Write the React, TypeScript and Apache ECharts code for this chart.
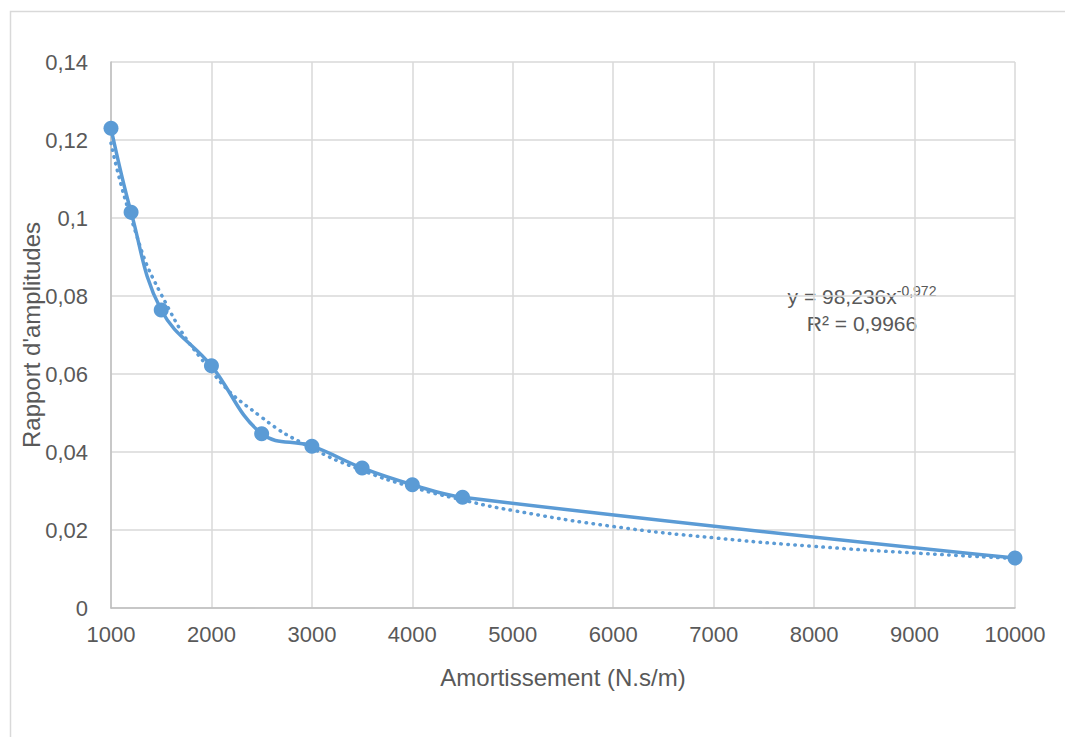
import React, { useEffect, useRef } from "react";
import * as echarts from "echarts";

const xValues = [1000, 1200, 1500, 2000, 2500, 3000, 3500, 4000, 4500, 10000];
const yValues = [0.123, 0.1015, 0.0764, 0.0621, 0.0447, 0.0415, 0.0359, 0.0316, 0.0284, 0.0128];

const trendX = [1000, 1200, 1500, 2000, 2500, 3000, 3500, 4000, 4500, 5000, 6000, 7000, 8000, 9000, 10000];
const trendY = [0.1192, 0.0999, 0.0804, 0.0607, 0.0489, 0.041, 0.0353, 0.031, 0.0277, 0.025, 0.0209, 0.018, 0.0158, 0.0141, 0.0127];

const xAxisTitle = "Amortissement (N.s/m)";
const yAxisTitle = "Rapport d'amplitudes";
const equationText = "y = 98,236x";
const exponentText = "-0,972";
const r2Text = "R² = 0,9966";

const FONT = "Liberation Sans";
const BLUE = "#5B9BD5";
const TEXT = "#595959";

export default function App() {
  const ref = useRef<HTMLDivElement>(null);
  useEffect(() => {
    if (!ref.current) return;
    const chart = echarts.init(ref.current, null, { renderer: "svg" });
    chart.setOption({
      animation: false,
      backgroundColor: "#ffffff",
      textStyle: { fontFamily: FONT },
      grid: { left: 111, right: 50, top: 62, bottom: 129, containLabel: false },
      xAxis: {
        type: "value",
        min: 1000,
        max: 10000,
        interval: 1000,
        name: xAxisTitle,
        nameLocation: "middle",
        nameGap: 57,
        nameMoveOverlap: false,
        nameTextStyle: { fontSize: 24, color: TEXT, fontFamily: FONT },
        axisLine: { show: true, lineStyle: { color: "#bfbfbf", width: 1.5 } },
        axisTick: { show: false },
        axisLabel: {
          fontSize: 22,
          color: TEXT,
          margin: 15,
          fontFamily: FONT,
          formatter: (v: number) => String(v),
        },
        splitLine: { show: true, lineStyle: { color: "#d9d9d9", width: 1.5 } },
      },
      yAxis: {
        type: "value",
        min: 0,
        max: 0.14,
        interval: 0.02,
        name: yAxisTitle,
        nameLocation: "middle",
        nameGap: 68,
        nameMoveOverlap: false,
        nameTextStyle: { fontSize: 24, color: TEXT, fontFamily: FONT },
        axisLine: { show: true, lineStyle: { color: "#bfbfbf", width: 1.5 } },
        axisTick: { show: false },
        axisLabel: {
          fontSize: 22,
          color: TEXT,
          margin: 23,
          fontFamily: FONT,
          formatter: (v: number) => String(+v.toFixed(2)).replace(".", ","),
        },
        splitLine: { show: true, lineStyle: { color: "#d9d9d9", width: 1.5 } },
      },
      graphic: [
        {
          type: "rect",
          shape: { x: 10.5, y: 11.5, width: 1200, height: 900 },
          style: { fill: "none", stroke: "#d9d9d9", lineWidth: 1.5 },
          silent: true,
          z: -1,
        },
        {
          type: "text",
          x: 862,
          y: 296,
          style: {
            text: `{a|${equationText}}{b|${exponentText}}`,
            align: "center",
            verticalAlign: "middle",
            rich: {
              a: { fontSize: 21, fill: TEXT, fontFamily: FONT },
              b: { fontSize: 14, fill: TEXT, fontFamily: FONT, padding: [0, 0, 11, 0] },
            },
          },
        },
        {
          type: "text",
          x: 862,
          y: 323,
          style: {
            text: r2Text,
            align: "center",
            verticalAlign: "middle",
            fontSize: 21,
            fill: TEXT,
            fontFamily: FONT,
          },
        },
      ],
      series: [
        {
          type: "line",
          data: trendX.map((x, i) => [x, trendY[i]]),
          smooth: true,
          showSymbol: false,
          symbol: "none",
          lineStyle: { color: BLUE, width: 3.5, type: [0.5, 6.5], cap: "round" },
          z: 3,
        },
        {
          type: "line",
          data: xValues.map((x, i) => [x, yValues[i]]),
          smooth: 0.4,
          symbol: "circle",
          symbolSize: 15,
          itemStyle: { color: BLUE },
          lineStyle: { color: BLUE, width: 3.5 },
          z: 2,
        },
      ],
    });
    return () => chart.dispose();
  }, []);
  return (
    <div
      ref={ref}
      style={{ position: "absolute", left: 0, top: 0, width: 1065, height: 737 }}
    />
  );
}
